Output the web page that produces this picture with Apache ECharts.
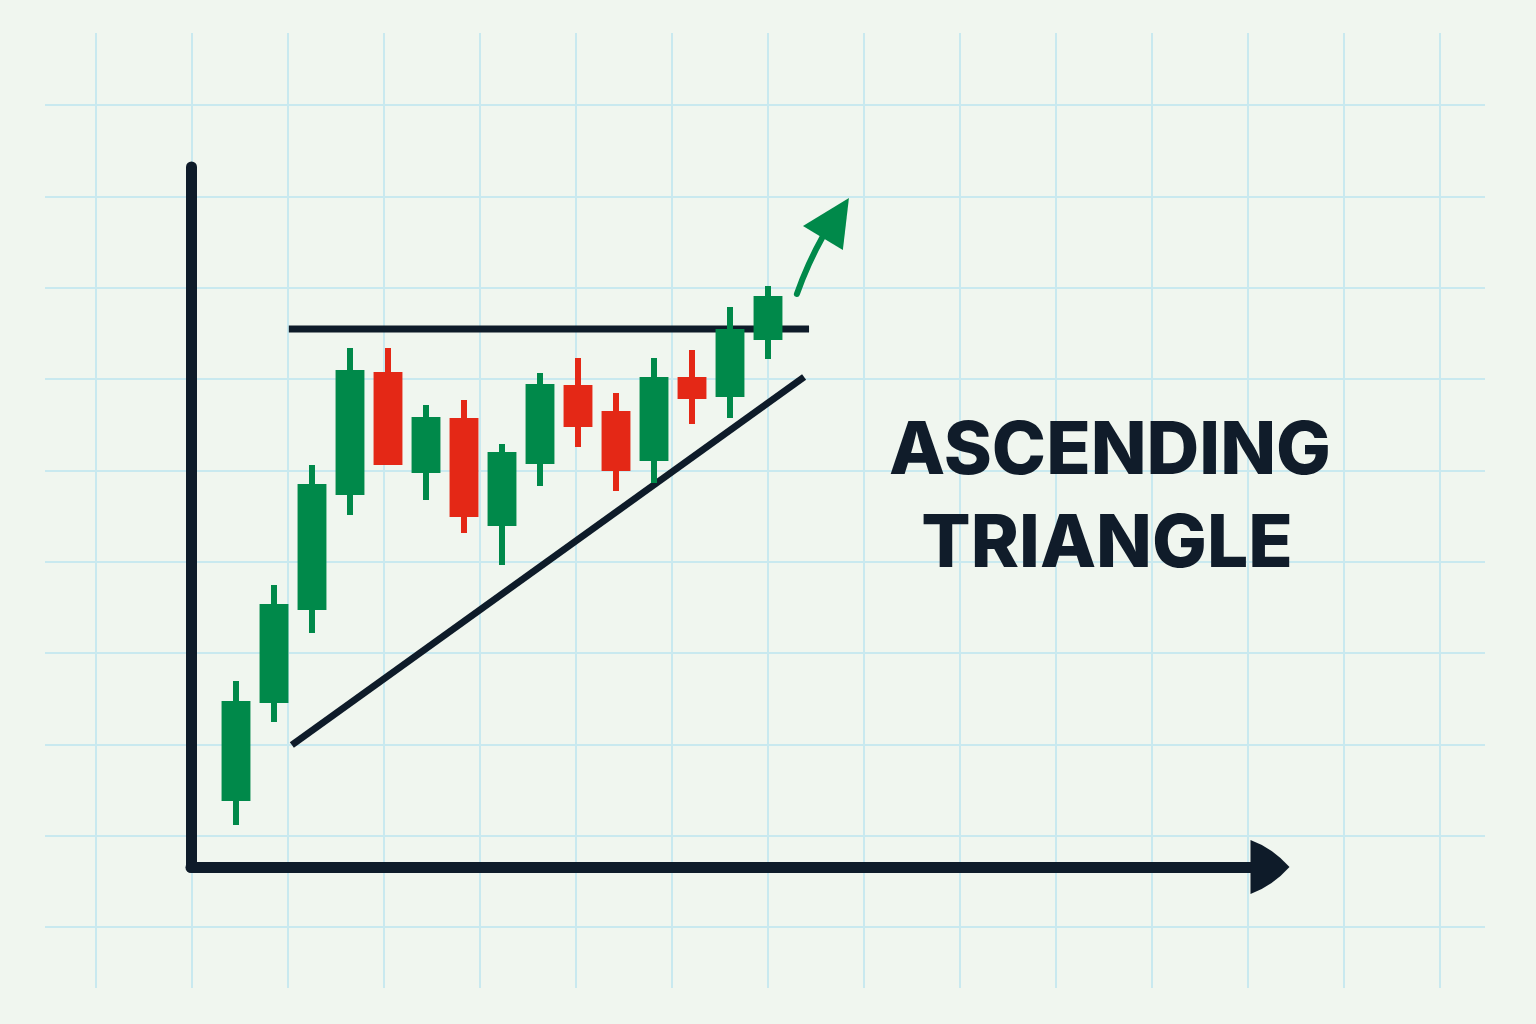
<!DOCTYPE html>
<html>
<head>
<meta charset="utf-8">
<script src="https://cdn.jsdelivr.net/npm/echarts@6/dist/echarts.min.js"></script>
<style>
  html, body { margin: 0; padding: 0; background: #f0f6ef; }
  #chart { width: 1536px; height: 1024px; }
</style>
</head>
<body>
<div id="chart"></div>
<script>
// ---- data (x = session index, y = price units) ----
const sessions = [0, 1, 2, 3, 4, 5, 6, 7, 8, 9, 10, 11, 12, 13, 14];
const opens  = [6.6, 16.4, 25.7, 37.2, 49.5, 39.4, 44.9, 34.1, 40.3, 48.2, 45.6, 40.6, 49.0, 47.0, 52.7];
const closes = [16.6, 26.3, 38.3, 49.7, 40.2, 45.0, 35.0, 41.5, 48.3, 44.0, 39.6, 49.0, 46.8, 53.8, 57.1];
const lows   = [4.2, 14.5, 23.4, 35.2, 40.2, 36.7, 33.4, 30.2, 38.1, 42.0, 37.6, 38.4, 44.3, 44.9, 50.8];
const highs  = [18.6, 28.2, 40.2, 51.9, 51.9, 46.2, 46.7, 42.3, 49.4, 50.9, 47.4, 50.9, 51.7, 56.0, 58.1];

const resistanceLine = [[1.39, 53.8], [15.08, 53.8]];
const supportLine    = [[1.47, 12.2], [14.95, 49.0]];
const breakoutShaft  = [[14.76, 57.3], [15.05, 60.4], [15.45, 63.1]];
const breakoutHead   = [[14.92, 64.1], [16.13, 66.9], [15.97, 61.7]];

const titleLines = ['ASCENDING', 'TRIANGLE'];

// ---- styles ----
const GREEN = '#00894a';
const RED = '#e42816';
const INK = '#0e1b29';
const GRIDLINE = '#c9e9ef';

const candleData = sessions.map((s, i) => [s, opens[i], closes[i], lows[i], highs[i]]);

const chart = echarts.init(document.getElementById('chart'), null, { renderer: 'canvas' });

const hidden = { show: false };
const titleStyle = { fontFamily: 'Inter', fontWeight: 800, fontSize: 73, lineHeight: 73, color: '#101c2a' };
const option = {
  backgroundColor: '#f0f6ef',
  animation: false,
  title: [
    { text: titleLines[0], left: 1110, top: 416, textAlign: 'center', padding: 0, textStyle: titleStyle },
    { text: titleLines[1], left: 1107, top: 509, textAlign: 'center', padding: 0, textStyle: titleStyle }
  ],
  grid: [
    { left: 0, right: 0, top: 33, bottom: 36 },
    { left: 45, right: 51, top: 13.67, bottom: 5.67 },
    { left: 191, right: 266, top: 167, bottom: 157 }
  ],
  xAxis: [
    { gridIndex: 0, type: 'value', min: 0, max: 1536, interval: 96,
      axisLine: hidden, axisTick: hidden, axisLabel: hidden,
      splitLine: { show: true, showMinLine: false, showMaxLine: false, lineStyle: { color: GRIDLINE, width: 2 } } },
    { gridIndex: 1, type: 'value', min: 0, max: 1, axisLine: hidden, axisTick: hidden, axisLabel: hidden, splitLine: hidden },
    { gridIndex: 2, type: 'value', min: -1.1842, max: 27.2105,
      axisLine: { show: true, onZero: false, symbol: ['none', 'path://M0,39 Q8,17 27,0 Q46,17 54,39 Z'], symbolSize: [54, 39],
        lineStyle: { color: INK, width: 11, cap: 'round' } },
      axisTick: hidden, axisLabel: hidden, splitLine: hidden }
  ],
  yAxis: [
    { gridIndex: 0, type: 'value', min: 0, max: 1, axisLine: hidden, axisTick: hidden, axisLabel: hidden, splitLine: hidden },
    { gridIndex: 1, type: 'value', min: 0, max: 11, interval: 1,
      axisLine: hidden, axisTick: hidden, axisLabel: hidden,
      splitLine: { show: true, showMinLine: false, showMaxLine: false, lineStyle: { color: GRIDLINE, width: 2 } } },
    { gridIndex: 2, type: 'value', min: 0, max: 70,
      axisLine: { show: true, onZero: false, lineStyle: { color: INK, width: 11, cap: 'round' } },
      axisTick: hidden, axisLabel: hidden, splitLine: hidden }
  ],
  series: [
    {
      name: 'Resistance', type: 'line', xAxisIndex: 2, yAxisIndex: 2,
      data: resistanceLine, symbol: 'none', z: 3,
      lineStyle: { color: INK, width: 7, cap: 'butt' }
    },
    {
      name: 'Support', type: 'line', xAxisIndex: 2, yAxisIndex: 2,
      data: supportLine, symbol: 'none', z: 3,
      lineStyle: { color: INK, width: 7, cap: 'butt' }
    },
    {
      name: 'Price', type: 'custom', xAxisIndex: 2, yAxisIndex: 2, z: 5,
      dimensions: ['session', 'open', 'close', 'low', 'high'],
      encode: { x: 0, y: [1, 2, 3, 4] },
      data: candleData,
      renderItem: function (params, api) {
        const x = api.value(0);
        const o = api.value(1), c = api.value(2), l = api.value(3), h = api.value(4);
        const pO = api.coord([x, o]);
        const pC = api.coord([x, c]);
        const pL = api.coord([x, l]);
        const pH = api.coord([x, h]);
        const bodyW = api.size([1, 0])[0] * 0.76;
        const wickW = 6;
        const color = c >= o ? GREEN : RED;
        return {
          type: 'group',
          children: [
            { type: 'rect', shape: { x: pH[0] - wickW / 2, y: pH[1], width: wickW, height: pL[1] - pH[1] }, style: { fill: color } },
            { type: 'rect', shape: { x: pO[0] - bodyW / 2, y: Math.min(pO[1], pC[1]), width: bodyW, height: Math.abs(pO[1] - pC[1]) }, style: { fill: color } }
          ]
        };
      }
    },
    {
      name: 'Breakout', type: 'custom', xAxisIndex: 2, yAxisIndex: 2, z: 6,
      data: [[breakoutShaft[0][0], breakoutShaft[0][1]]],
      renderItem: function (params, api) {
        const s = breakoutShaft.map(p => api.coord(p));
        const hd = breakoutHead.map(p => api.coord(p));
        return {
          type: 'group',
          children: [
            { type: 'bezierCurve',
              shape: { x1: s[0][0], y1: s[0][1], cpx1: s[1][0], cpy1: s[1][1], x2: s[2][0], y2: s[2][1] },
              style: { stroke: GREEN, lineWidth: 6, fill: null, lineCap: 'round' } },
            { type: 'polygon', shape: { points: hd }, style: { fill: GREEN } }
          ]
        };
      }
    }
  ]
};
chart.setOption(option);
</script>
</body>
</html>
